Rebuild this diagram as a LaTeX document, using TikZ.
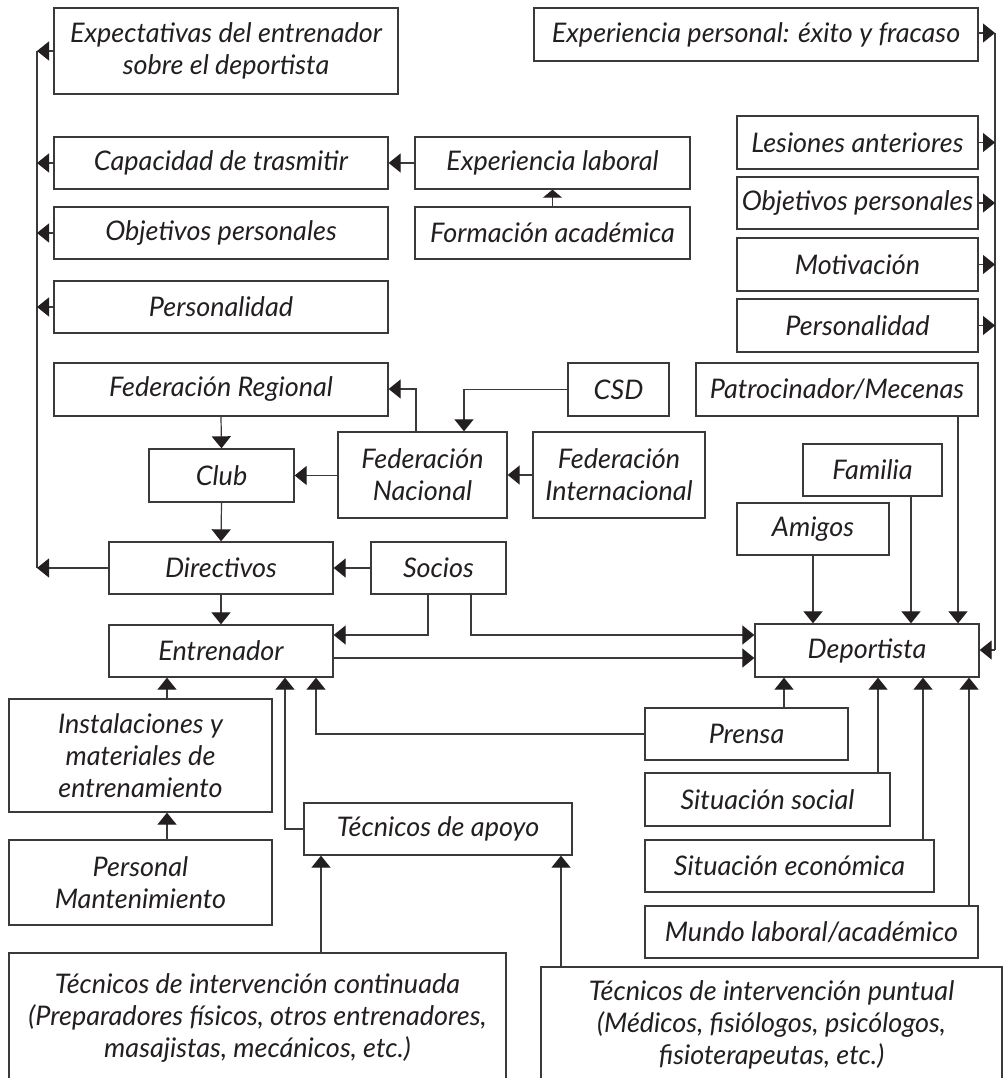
\documentclass[tikz,border=0pt]{standalone}
\usepackage{fontspec}
\setmainfont{Lato}
\usetikzlibrary{arrows.meta}
\definecolor{ink}{HTML}{231F20}
\definecolor{edge}{HTML}{3A3A3A}
\begin{document}
\begin{tikzpicture}[x=1pt,y=-1pt,
  box/.style={draw=edge, line width=1.3pt, inner sep=0pt, align=center,
    text=ink, font=\fontsize{27}{32}\selectfont\itshape},
  sz/.style 2 args={minimum width=#1pt, minimum height=#2pt},
  link/.style={draw=edge, line width=1.2pt},
  arr/.style={link, -{Triangle[length=12pt,width=19pt,fill=ink,color=ink]}},
  shortarr/.style={link, -{Triangle[length=8pt,width=19pt,fill=ink,color=ink]}}]
\useasboundingbox[fill=white] (0,0) rectangle (1007,1078);

% guide lines for the two collecting rails
\coordinate (L) at (37,0);
\coordinate (R) at (995,0);
\coordinate (xSocA) at (428,0);
\coordinate (xSocB) at (471,0);
\coordinate (xFN) at (416,0);
\coordinate (xCSD) at (464,0);
\coordinate (xInst) at (167,0);
\coordinate (xApoyo) at (285,0);
\coordinate (xPrensa) at (316,0);
\coordinate (xCont) at (321,0);
\coordinate (xPunt) at (561,0);
\coordinate (xPrD) at (784,0);
\coordinate (xSoc) at (878,0);
\coordinate (xEco) at (923,0);
\coordinate (xMun) at (969,0);
\coordinate (xAmi) at (813,0);
\coordinate (xFam) at (911,0);
\coordinate (xPat) at (958,0);
\coordinate (ySoc) at (0,635);
\coordinate (yEnt) at (0,658);
\coordinate (yDep) at (0,650);
\coordinate (yFN) at (0,389);
\coordinate (yExp) at (0,33);

% coach side
\node[box, sz={344}{86}] (expect) at (226,51) {Expectativas del entrenador\\sobre el deportista};
\node[box, sz={334}{52}] (capac) at (221,163) {Capacidad de trasmitir};
\node[box, sz={334}{52}] (objL) at (221,233) {Objetivos personales};
\node[box, sz={334}{52}] (persL) at (221,307) {Personalidad};
\node[box, sz={275}{52}] (explab) at (552.5,163) {Experiencia laboral};
\node[box, sz={275}{52}] (formac) at (552.5,233) {Formación académica};

% athlete side
\node[box, sz={444}{53}] (exper) at (756,34.5) {Experiencia personal: éxito y fracaso};
\node[box, sz={241}{53}] (lesion) at (857.5,142.5) {Lesiones anteriores};
\node[box, sz={241}{52}] (objR) at (857.5,203) {Objetivos personales};
\node[box, sz={241}{53}] (motiv) at (857.5,264.5) {Motivación};
\node[box, sz={241}{53}] (persR) at (857.5,325.5) {Personalidad};

% institutions
\node[box, sz={334}{53}] (fedreg) at (221,389.5) {Federación Regional};
\node[box, sz={101}{53}] (csd) at (618.5,389.5) {CSD};
\node[box, sz={282}{53}] (patro) at (837,389.5) {Patrocinador/Mecenas};
\node[box, sz={145}{53}] (club) at (221.5,475.5) {Club};
\node[box, sz={169}{86}] (fednac) at (422.5,475) {Federación\\Nacional};
\node[box, sz={172}{86}] (fedint) at (619,475) {Federación\\Internacional};
\node[box, sz={139}{52}] (familia) at (872.5,470) {Familia};
\node[box, sz={152}{52}] (amigos) at (813,529) {Amigos};
\node[box, sz={224}{52}] (direct) at (221,568) {Directivos};
\node[box, sz={135}{52}] (socios) at (438.5,568) {Socios};
\node[box, sz={224}{52}] (entren) at (221,651) {Entrenador};
\node[box, sz={224}{53}] (deport) at (867,650.5) {Deportista};

% lower part
\node[box, sz={263}{113}] (instal) at (140.5,755.5) {Instalaciones y\\materiales de\\entrenamiento};
\node[box, sz={263}{85}] (persman) at (140.5,882.5) {Personal\\Mantenimiento};
\node[box, sz={268}{52}] (apoyo) at (438,829) {Técnicos de apoyo};
\node[box, sz={203}{52}] (prensa) at (746.5,734) {Prensa};
\node[box, sz={245}{53}] (sitsoc) at (767.5,799.5) {Situación social};
\node[box, sz={289}{52}] (siteco) at (789.5,866) {Situación económica};
\node[box, sz={333}{52}] (mundo) at (811.5,932) {Mundo laboral/académico};
\node[box, sz={497}{130}] (teccont) at (257.5,1018) {Técnicos de intervención continuada\\(Preparadores físicos, otros entrenadores,\\masajistas, mecánicos, etc.)};
\node[box, sz={461}{116}] (tecpunt) at (771.5,1025) {Técnicos de intervención puntual\\(Médicos, fisiólogos, psicólogos,\\fisioterapeutas, etc.)};

% left rail
\draw[link] (expect.west -| L) -- (direct.west -| L);
\foreach \n in {expect,capac,objL,persL,direct}
  \draw[arr] (\n.west) -- (\n.west -| L);
\draw[arr] (explab.west) -- (capac.east);
\draw[shortarr] (formac.north) -- (explab.south);

% right rail
\draw[link] (yExp -| R) -- (yDep -| R);
\draw[arr] (exper.east |- yExp) -- (yExp -| R);
\foreach \n in {lesion,objR,motiv,persR}
  \draw[arr] (\n.east) -- (\n.east -| R);
\draw[arr] (yDep -| R) -- (yDep -| deport.east);

% federations and club
\draw[arr] (fedreg.south) -- (club.north);
\draw[arr] (fednac.north -| xFN) -- (yFN -| xFN) -- (fedreg.east |- yFN);
\draw[arr] (fednac.west |- club.east) -- (club.east);
\draw[arr] (csd.west) -- (csd.west -| xCSD) -- (fednac.north -| xCSD);
\draw[arr] (fedint.west) -- (fednac.east);
\draw[arr] (club.south) -- (direct.north);
\draw[arr] (socios.west) -- (direct.east);
\draw[arr] (direct.south) -- (entren.north);
\draw[arr] (socios.south -| xSocA) -- (ySoc -| xSocA) -- (ySoc -| entren.east);
\draw[arr] (socios.south -| xSocB) -- (ySoc -| xSocB) -- (ySoc -| deport.west);
\draw[arr] (yEnt -| entren.east) -- (yEnt -| deport.west);

% influences on the athlete
\draw[arr] (amigos.south -| xAmi) -- (deport.north -| xAmi);
\draw[arr] (familia.south -| xFam) -- (deport.north -| xFam);
\draw[arr] (patro.south -| xPat) -- (deport.north -| xPat);
\draw[arr] (prensa.north -| xPrD) -- (deport.south -| xPrD);
\draw[arr] (sitsoc.north -| xSoc) -- (deport.south -| xSoc);
\draw[arr] (siteco.north -| xEco) -- (deport.south -| xEco);
\draw[arr] (mundo.north -| xMun) -- (deport.south -| xMun);

% influences on the coach
\draw[arr] (instal.north -| xInst) -- (entren.south -| xInst);
\draw[arr] (persman.north -| xInst) -- (instal.south -| xInst);
\draw[arr] (apoyo.west) -- (apoyo.west -| xApoyo) -- (entren.south -| xApoyo);
\draw[arr] (prensa.west) -- (prensa.west -| xPrensa) -- (entren.south -| xPrensa);
\draw[arr] (teccont.north -| xCont) -- (apoyo.south -| xCont);
\draw[arr] (tecpunt.north -| xPunt) -- (apoyo.south -| xPunt);
\end{tikzpicture}
\end{document}
